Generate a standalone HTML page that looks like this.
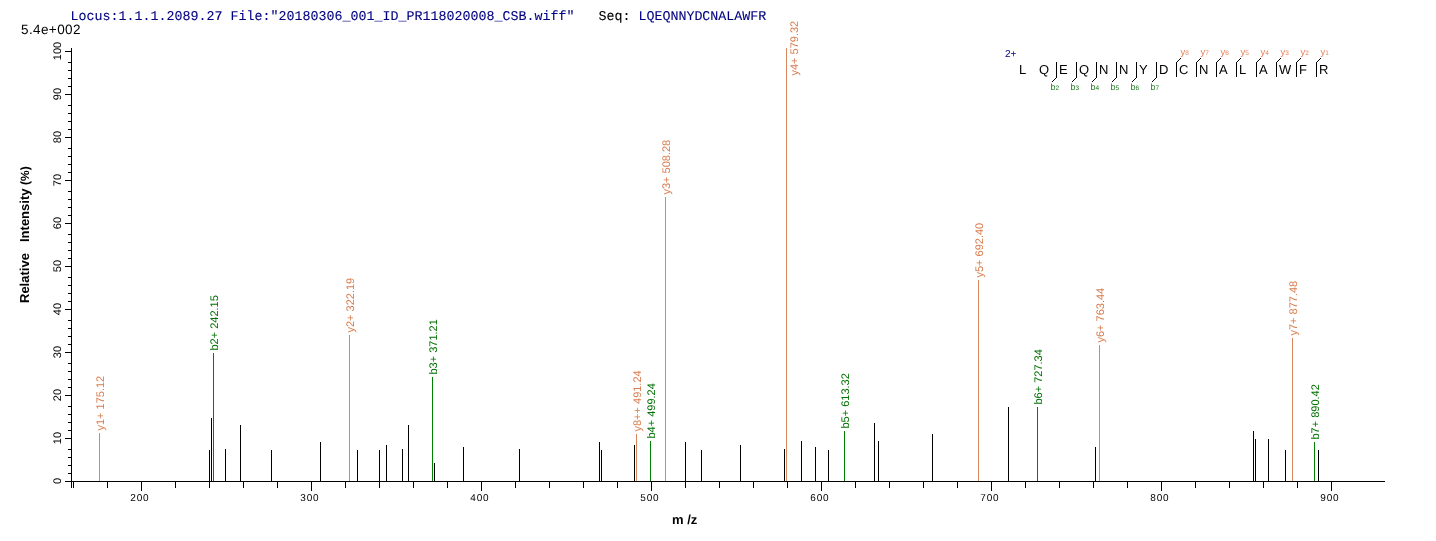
<!DOCTYPE html>
<html><head><meta charset="utf-8"><style>
html,body{margin:0;padding:0;background:#fff;}
svg{display:block;will-change:transform;}
text{font-family:"Liberation Sans",sans-serif;text-rendering:geometricPrecision;}
.mono{font-family:"Liberation Mono",monospace;}
</style></head><body>
<svg width="1436" height="541" viewBox="0 0 1436 541">
<rect width="1436" height="541" fill="#fff"/>
<g shape-rendering="crispEdges">
<rect x="71" y="48" width="1" height="440" fill="#000"/>
<rect x="65" y="481" width="1320" height="1" fill="#000"/>
<rect x="65" y="481" width="6" height="1" fill="#000"/>
<rect x="68" y="473" width="3" height="1" fill="#000"/>
<rect x="68" y="465" width="3" height="1" fill="#000"/>
<rect x="68" y="457" width="3" height="1" fill="#000"/>
<rect x="68" y="449" width="3" height="1" fill="#000"/>
<rect x="65" y="438" width="6" height="1" fill="#000"/>
<rect x="68" y="430" width="3" height="1" fill="#000"/>
<rect x="68" y="422" width="3" height="1" fill="#000"/>
<rect x="68" y="414" width="3" height="1" fill="#000"/>
<rect x="68" y="406" width="3" height="1" fill="#000"/>
<rect x="65" y="395" width="6" height="1" fill="#000"/>
<rect x="68" y="387" width="3" height="1" fill="#000"/>
<rect x="68" y="379" width="3" height="1" fill="#000"/>
<rect x="68" y="371" width="3" height="1" fill="#000"/>
<rect x="68" y="363" width="3" height="1" fill="#000"/>
<rect x="65" y="352" width="6" height="1" fill="#000"/>
<rect x="68" y="344" width="3" height="1" fill="#000"/>
<rect x="68" y="336" width="3" height="1" fill="#000"/>
<rect x="68" y="328" width="3" height="1" fill="#000"/>
<rect x="68" y="320" width="3" height="1" fill="#000"/>
<rect x="65" y="309" width="6" height="1" fill="#000"/>
<rect x="68" y="301" width="3" height="1" fill="#000"/>
<rect x="68" y="293" width="3" height="1" fill="#000"/>
<rect x="68" y="285" width="3" height="1" fill="#000"/>
<rect x="68" y="277" width="3" height="1" fill="#000"/>
<rect x="65" y="266" width="6" height="1" fill="#000"/>
<rect x="68" y="258" width="3" height="1" fill="#000"/>
<rect x="68" y="250" width="3" height="1" fill="#000"/>
<rect x="68" y="242" width="3" height="1" fill="#000"/>
<rect x="68" y="234" width="3" height="1" fill="#000"/>
<rect x="65" y="223" width="6" height="1" fill="#000"/>
<rect x="68" y="215" width="3" height="1" fill="#000"/>
<rect x="68" y="207" width="3" height="1" fill="#000"/>
<rect x="68" y="199" width="3" height="1" fill="#000"/>
<rect x="68" y="191" width="3" height="1" fill="#000"/>
<rect x="65" y="180" width="6" height="1" fill="#000"/>
<rect x="68" y="172" width="3" height="1" fill="#000"/>
<rect x="68" y="164" width="3" height="1" fill="#000"/>
<rect x="68" y="156" width="3" height="1" fill="#000"/>
<rect x="68" y="148" width="3" height="1" fill="#000"/>
<rect x="65" y="137" width="6" height="1" fill="#000"/>
<rect x="68" y="129" width="3" height="1" fill="#000"/>
<rect x="68" y="121" width="3" height="1" fill="#000"/>
<rect x="68" y="113" width="3" height="1" fill="#000"/>
<rect x="68" y="105" width="3" height="1" fill="#000"/>
<rect x="65" y="94" width="6" height="1" fill="#000"/>
<rect x="68" y="86" width="3" height="1" fill="#000"/>
<rect x="68" y="78" width="3" height="1" fill="#000"/>
<rect x="68" y="70" width="3" height="1" fill="#000"/>
<rect x="68" y="62" width="3" height="1" fill="#000"/>
<rect x="65" y="51" width="6" height="1" fill="#000"/>
<rect x="141" y="482" width="1" height="9" fill="#000"/>
<rect x="107" y="482" width="1" height="6" fill="#000"/>
<rect x="73" y="482" width="1" height="6" fill="#000"/>
<rect x="311" y="482" width="1" height="9" fill="#000"/>
<rect x="277" y="482" width="1" height="6" fill="#000"/>
<rect x="243" y="482" width="1" height="6" fill="#000"/>
<rect x="209" y="482" width="1" height="6" fill="#000"/>
<rect x="175" y="482" width="1" height="6" fill="#000"/>
<rect x="481" y="482" width="1" height="9" fill="#000"/>
<rect x="447" y="482" width="1" height="6" fill="#000"/>
<rect x="413" y="482" width="1" height="6" fill="#000"/>
<rect x="379" y="482" width="1" height="6" fill="#000"/>
<rect x="345" y="482" width="1" height="6" fill="#000"/>
<rect x="651" y="482" width="1" height="9" fill="#000"/>
<rect x="617" y="482" width="1" height="6" fill="#000"/>
<rect x="583" y="482" width="1" height="6" fill="#000"/>
<rect x="549" y="482" width="1" height="6" fill="#000"/>
<rect x="515" y="482" width="1" height="6" fill="#000"/>
<rect x="821" y="482" width="1" height="9" fill="#000"/>
<rect x="787" y="482" width="1" height="6" fill="#000"/>
<rect x="753" y="482" width="1" height="6" fill="#000"/>
<rect x="719" y="482" width="1" height="6" fill="#000"/>
<rect x="685" y="482" width="1" height="6" fill="#000"/>
<rect x="991" y="482" width="1" height="9" fill="#000"/>
<rect x="957" y="482" width="1" height="6" fill="#000"/>
<rect x="923" y="482" width="1" height="6" fill="#000"/>
<rect x="889" y="482" width="1" height="6" fill="#000"/>
<rect x="855" y="482" width="1" height="6" fill="#000"/>
<rect x="1161" y="482" width="1" height="9" fill="#000"/>
<rect x="1127" y="482" width="1" height="6" fill="#000"/>
<rect x="1093" y="482" width="1" height="6" fill="#000"/>
<rect x="1059" y="482" width="1" height="6" fill="#000"/>
<rect x="1025" y="482" width="1" height="6" fill="#000"/>
<rect x="1331" y="482" width="1" height="9" fill="#000"/>
<rect x="1297" y="482" width="1" height="6" fill="#000"/>
<rect x="1263" y="482" width="1" height="6" fill="#000"/>
<rect x="1229" y="482" width="1" height="6" fill="#000"/>
<rect x="1195" y="482" width="1" height="6" fill="#000"/>
<rect x="209" y="450" width="1" height="31" fill="#000"/>
<rect x="211" y="418" width="1" height="63" fill="#000"/>
<rect x="225" y="449" width="1" height="32" fill="#000"/>
<rect x="240" y="425" width="1" height="56" fill="#000"/>
<rect x="271" y="450" width="1" height="31" fill="#000"/>
<rect x="320" y="442" width="1" height="39" fill="#000"/>
<rect x="357" y="450" width="1" height="31" fill="#000"/>
<rect x="379" y="450" width="1" height="31" fill="#000"/>
<rect x="386" y="445" width="1" height="36" fill="#000"/>
<rect x="402" y="449" width="1" height="32" fill="#000"/>
<rect x="408" y="425" width="1" height="56" fill="#000"/>
<rect x="434" y="463" width="1" height="18" fill="#000"/>
<rect x="463" y="447" width="1" height="34" fill="#000"/>
<rect x="519" y="449" width="1" height="32" fill="#000"/>
<rect x="599" y="442" width="1" height="39" fill="#000"/>
<rect x="601" y="450" width="1" height="31" fill="#000"/>
<rect x="634" y="445" width="1" height="36" fill="#000"/>
<rect x="685" y="442" width="1" height="39" fill="#000"/>
<rect x="701" y="450" width="1" height="31" fill="#000"/>
<rect x="740" y="445" width="1" height="36" fill="#000"/>
<rect x="784" y="449" width="1" height="32" fill="#000"/>
<rect x="801" y="441" width="1" height="40" fill="#000"/>
<rect x="815" y="447" width="1" height="34" fill="#000"/>
<rect x="828" y="450" width="1" height="31" fill="#000"/>
<rect x="874" y="423" width="1" height="58" fill="#000"/>
<rect x="878" y="441" width="1" height="40" fill="#000"/>
<rect x="932" y="434" width="1" height="47" fill="#000"/>
<rect x="1008" y="407" width="1" height="74" fill="#000"/>
<rect x="1095" y="447" width="1" height="34" fill="#000"/>
<rect x="1253" y="431" width="1" height="50" fill="#000"/>
<rect x="1255" y="439" width="1" height="42" fill="#000"/>
<rect x="1268" y="439" width="1" height="42" fill="#000"/>
<rect x="1285" y="450" width="1" height="31" fill="#000"/>
<rect x="1318" y="450" width="1" height="31" fill="#000"/>
<rect x="99" y="433" width="1" height="48" fill="#d8875c"/>
<rect x="213" y="353" width="1" height="128" fill="#008000"/>
<rect x="349" y="335" width="1" height="146" fill="#d8875c"/>
<rect x="432" y="377" width="1" height="104" fill="#008000"/>
<rect x="636" y="434" width="1" height="47" fill="#d8875c"/>
<rect x="650" y="441" width="1" height="40" fill="#008000"/>
<rect x="665" y="197" width="1" height="284" fill="#d8875c"/>
<rect x="786" y="48" width="1" height="433" fill="#d8875c"/>
<rect x="844" y="431" width="1" height="50" fill="#008000"/>
<rect x="978" y="280" width="1" height="201" fill="#d8875c"/>
<rect x="1037" y="407" width="1" height="74" fill="#008000"/>
<rect x="1099" y="345" width="1" height="136" fill="#d8875c"/>
<rect x="1292" y="338" width="1" height="143" fill="#d8875c"/>
<rect x="1314" y="442" width="1" height="39" fill="#008000"/>
</g>
<text class="mono" x="70.5" y="19.5" font-size="13.33" fill="#000080" stroke="#000080" stroke-width="0.1" xml:space="preserve">Locus:1.1.1.2089.27 File:"20180306_001_ID_PR118020008_CSB.wiff"   <tspan fill="#000" stroke="#000">Seq:</tspan> LQEQNNYDCNALAWFR</text>
<text x="21" y="34" font-size="13.5" letter-spacing="0.4">5.4e+002</text>
<text x="139.8" y="501" text-anchor="middle" font-size="10.0" letter-spacing="0.75">200</text>
<text x="309.8" y="501" text-anchor="middle" font-size="10.0" letter-spacing="0.75">300</text>
<text x="479.8" y="501" text-anchor="middle" font-size="10.0" letter-spacing="0.75">400</text>
<text x="649.8" y="501" text-anchor="middle" font-size="10.0" letter-spacing="0.75">500</text>
<text x="819.8" y="501" text-anchor="middle" font-size="10.0" letter-spacing="0.75">600</text>
<text x="989.8" y="501" text-anchor="middle" font-size="10.0" letter-spacing="0.75">700</text>
<text x="1159.8" y="501" text-anchor="middle" font-size="10.0" letter-spacing="0.75">800</text>
<text x="1329.8" y="501" text-anchor="middle" font-size="10.0" letter-spacing="0.75">900</text>
<text transform="translate(61,481) rotate(-90)" text-anchor="middle" font-size="11">0</text>
<text transform="translate(61,438) rotate(-90)" text-anchor="middle" font-size="11">10</text>
<text transform="translate(61,395) rotate(-90)" text-anchor="middle" font-size="11">20</text>
<text transform="translate(61,352) rotate(-90)" text-anchor="middle" font-size="11">30</text>
<text transform="translate(61,309) rotate(-90)" text-anchor="middle" font-size="11">40</text>
<text transform="translate(61,266) rotate(-90)" text-anchor="middle" font-size="11">50</text>
<text transform="translate(61,223) rotate(-90)" text-anchor="middle" font-size="11">60</text>
<text transform="translate(61,180) rotate(-90)" text-anchor="middle" font-size="11">70</text>
<text transform="translate(61,137) rotate(-90)" text-anchor="middle" font-size="11">80</text>
<text transform="translate(61,94) rotate(-90)" text-anchor="middle" font-size="11">90</text>
<text transform="translate(61,51) rotate(-90)" text-anchor="middle" font-size="11">100</text>
<text transform="translate(104,430.5) rotate(-90)" font-size="11" fill="#d87d4e">y1+ 175.12</text>
<text transform="translate(218,350.5) rotate(-90)" font-size="11" fill="#007000">b2+ 242.15</text>
<text transform="translate(354,332.5) rotate(-90)" font-size="11" fill="#d87d4e">y2+ 322.19</text>
<text transform="translate(437,374.5) rotate(-90)" font-size="11" fill="#007000">b3+ 371.21</text>
<text transform="translate(641,431.5) rotate(-90)" font-size="11" fill="#d87d4e">y8++ 491.24</text>
<text transform="translate(655,438.5) rotate(-90)" font-size="11" fill="#007000">b4+ 499.24</text>
<text transform="translate(670,194.5) rotate(-90)" font-size="11" fill="#d87d4e">y3+ 508.28</text>
<text transform="translate(798,75.5) rotate(-90)" font-size="11" fill="#d87d4e">y4+ 579.32</text>
<text transform="translate(849,428.5) rotate(-90)" font-size="11" fill="#007000">b5+ 613.32</text>
<text transform="translate(983,277.5) rotate(-90)" font-size="11" fill="#d87d4e">y5+ 692.40</text>
<text transform="translate(1042,404.5) rotate(-90)" font-size="11" fill="#007000">b6+ 727.34</text>
<text transform="translate(1104,342.5) rotate(-90)" font-size="11" fill="#d87d4e">y6+ 763.44</text>
<text transform="translate(1297,335.5) rotate(-90)" font-size="11" fill="#d87d4e">y7+ 877.48</text>
<text transform="translate(1319,439.5) rotate(-90)" font-size="11" fill="#007000">b7+ 890.42</text>
<text transform="translate(29,303) rotate(-90)" font-size="13" font-weight="bold">Relative</text>
<text transform="translate(29,242) rotate(-90)" font-size="13" font-weight="bold">Intensity <tspan font-size="12">(%)</tspan></text>
<text x="672" y="524" font-size="13" font-weight="bold">m /z</text>
<g shape-rendering="crispEdges"><text x="1019" y="74" font-size="13">L</text>
<text x="1039" y="74" font-size="13">Q</text>
<text x="1059" y="74" font-size="13">E</text>
<text x="1079" y="74" font-size="13">Q</text>
<text x="1099" y="74" font-size="13">N</text>
<text x="1119" y="74" font-size="13">N</text>
<text x="1139" y="74" font-size="13">Y</text>
<text x="1159" y="74" font-size="13">D</text>
<text x="1179" y="74" font-size="13">C</text>
<text x="1199" y="74" font-size="13">N</text>
<text x="1219" y="74" font-size="13">A</text>
<text x="1239" y="74" font-size="13">L</text>
<text x="1259" y="74" font-size="13">A</text>
<text x="1279" y="74" font-size="13">W</text>
<text x="1299" y="74" font-size="13">F</text>
<text x="1319" y="74" font-size="13">R</text>
<rect x="1056" y="62" width="1" height="16" fill="#000"/>
<rect x="1055" y="78" width="1" height="1" fill="#000"/>
<rect x="1054" y="79" width="1" height="1" fill="#000"/>
<rect x="1053" y="80" width="1" height="1" fill="#000"/>
<rect x="1052" y="81" width="1" height="1" fill="#000"/>
<text x="1050.5" y="90" font-size="9" fill="#207a20">b<tspan font-size="6.5">2</tspan></text>
<rect x="1076" y="62" width="1" height="16" fill="#000"/>
<rect x="1075" y="78" width="1" height="1" fill="#000"/>
<rect x="1074" y="79" width="1" height="1" fill="#000"/>
<rect x="1073" y="80" width="1" height="1" fill="#000"/>
<rect x="1072" y="81" width="1" height="1" fill="#000"/>
<text x="1070.5" y="90" font-size="9" fill="#207a20">b<tspan font-size="6.5">3</tspan></text>
<rect x="1096" y="62" width="1" height="16" fill="#000"/>
<rect x="1095" y="78" width="1" height="1" fill="#000"/>
<rect x="1094" y="79" width="1" height="1" fill="#000"/>
<rect x="1093" y="80" width="1" height="1" fill="#000"/>
<rect x="1092" y="81" width="1" height="1" fill="#000"/>
<text x="1090.5" y="90" font-size="9" fill="#207a20">b<tspan font-size="6.5">4</tspan></text>
<rect x="1116" y="62" width="1" height="16" fill="#000"/>
<rect x="1115" y="78" width="1" height="1" fill="#000"/>
<rect x="1114" y="79" width="1" height="1" fill="#000"/>
<rect x="1113" y="80" width="1" height="1" fill="#000"/>
<rect x="1112" y="81" width="1" height="1" fill="#000"/>
<text x="1110.5" y="90" font-size="9" fill="#207a20">b<tspan font-size="6.5">5</tspan></text>
<rect x="1136" y="62" width="1" height="16" fill="#000"/>
<rect x="1135" y="78" width="1" height="1" fill="#000"/>
<rect x="1134" y="79" width="1" height="1" fill="#000"/>
<rect x="1133" y="80" width="1" height="1" fill="#000"/>
<rect x="1132" y="81" width="1" height="1" fill="#000"/>
<text x="1130.5" y="90" font-size="9" fill="#207a20">b<tspan font-size="6.5">6</tspan></text>
<rect x="1156" y="62" width="1" height="16" fill="#000"/>
<rect x="1155" y="78" width="1" height="1" fill="#000"/>
<rect x="1154" y="79" width="1" height="1" fill="#000"/>
<rect x="1153" y="80" width="1" height="1" fill="#000"/>
<rect x="1152" y="81" width="1" height="1" fill="#000"/>
<text x="1150.5" y="90" font-size="9" fill="#207a20">b<tspan font-size="6.5">7</tspan></text>
<rect x="1176" y="62" width="1" height="15" fill="#000"/>
<rect x="1177" y="61" width="1" height="1" fill="#000"/>
<rect x="1178" y="60" width="1" height="1" fill="#000"/>
<rect x="1179" y="59" width="1" height="1" fill="#000"/>
<rect x="1180" y="58" width="1" height="1" fill="#000"/>
<text x="1180.5" y="55" font-size="9.5" fill="#e8845c">y<tspan font-size="6.5">8</tspan></text>
<rect x="1196" y="62" width="1" height="15" fill="#000"/>
<rect x="1197" y="61" width="1" height="1" fill="#000"/>
<rect x="1198" y="60" width="1" height="1" fill="#000"/>
<rect x="1199" y="59" width="1" height="1" fill="#000"/>
<rect x="1200" y="58" width="1" height="1" fill="#000"/>
<text x="1200.5" y="55" font-size="9.5" fill="#e8845c">y<tspan font-size="6.5">7</tspan></text>
<rect x="1216" y="62" width="1" height="15" fill="#000"/>
<rect x="1217" y="61" width="1" height="1" fill="#000"/>
<rect x="1218" y="60" width="1" height="1" fill="#000"/>
<rect x="1219" y="59" width="1" height="1" fill="#000"/>
<rect x="1220" y="58" width="1" height="1" fill="#000"/>
<text x="1220.5" y="55" font-size="9.5" fill="#e8845c">y<tspan font-size="6.5">6</tspan></text>
<rect x="1236" y="62" width="1" height="15" fill="#000"/>
<rect x="1237" y="61" width="1" height="1" fill="#000"/>
<rect x="1238" y="60" width="1" height="1" fill="#000"/>
<rect x="1239" y="59" width="1" height="1" fill="#000"/>
<rect x="1240" y="58" width="1" height="1" fill="#000"/>
<text x="1240.5" y="55" font-size="9.5" fill="#e8845c">y<tspan font-size="6.5">5</tspan></text>
<rect x="1256" y="62" width="1" height="15" fill="#000"/>
<rect x="1257" y="61" width="1" height="1" fill="#000"/>
<rect x="1258" y="60" width="1" height="1" fill="#000"/>
<rect x="1259" y="59" width="1" height="1" fill="#000"/>
<rect x="1260" y="58" width="1" height="1" fill="#000"/>
<text x="1260.5" y="55" font-size="9.5" fill="#e8845c">y<tspan font-size="6.5">4</tspan></text>
<rect x="1276" y="62" width="1" height="15" fill="#000"/>
<rect x="1277" y="61" width="1" height="1" fill="#000"/>
<rect x="1278" y="60" width="1" height="1" fill="#000"/>
<rect x="1279" y="59" width="1" height="1" fill="#000"/>
<rect x="1280" y="58" width="1" height="1" fill="#000"/>
<text x="1280.5" y="55" font-size="9.5" fill="#e8845c">y<tspan font-size="6.5">3</tspan></text>
<rect x="1296" y="62" width="1" height="15" fill="#000"/>
<rect x="1297" y="61" width="1" height="1" fill="#000"/>
<rect x="1298" y="60" width="1" height="1" fill="#000"/>
<rect x="1299" y="59" width="1" height="1" fill="#000"/>
<rect x="1300" y="58" width="1" height="1" fill="#000"/>
<text x="1300.5" y="55" font-size="9.5" fill="#e8845c">y<tspan font-size="6.5">2</tspan></text>
<rect x="1316" y="62" width="1" height="15" fill="#000"/>
<rect x="1317" y="61" width="1" height="1" fill="#000"/>
<rect x="1318" y="60" width="1" height="1" fill="#000"/>
<rect x="1319" y="59" width="1" height="1" fill="#000"/>
<rect x="1320" y="58" width="1" height="1" fill="#000"/>
<text x="1320.5" y="55" font-size="9.5" fill="#e8845c">y<tspan font-size="6.5">1</tspan></text>
<text x="1005" y="57" font-size="10" fill="#000080">2+</text></g>
</svg>
</body></html>
